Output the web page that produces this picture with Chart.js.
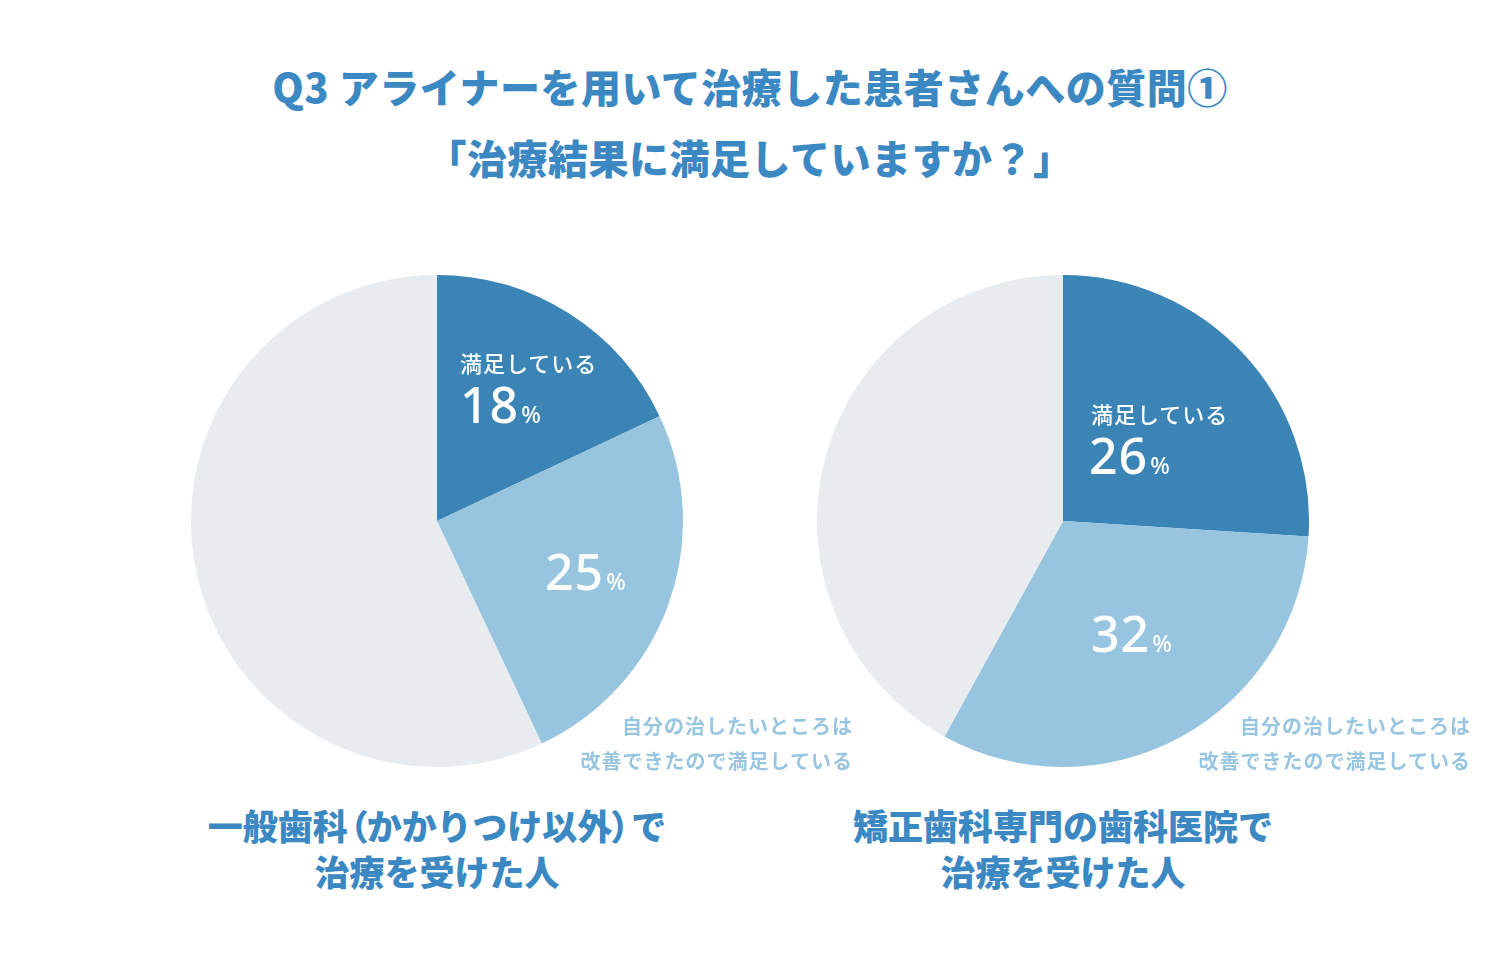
<!DOCTYPE html>
<html lang="ja">
<head>
<meta charset="utf-8">
<script src="https://cdn.jsdelivr.net/npm/chart.js@4/dist/chart.umd.min.js"></script>
<style>
  html,body{margin:0;padding:0;background:#fff;}
  body{width:1500px;height:975px;position:relative;overflow:hidden;font-family:"Noto Sans CJK JP","Noto Sans",sans-serif;}
  .title{position:absolute;left:0;width:1500px;text-align:center;color:#3b88c2;font-weight:900;font-size:40px;line-height:1;letter-spacing:0.5px;}
  .pie{position:absolute;width:492px;height:492px;}
  .lbl{position:absolute;color:#fff;white-space:nowrap;}
  .small{font-size:22px;font-weight:500;letter-spacing:1px;}
  .num{font-family:"Noto Sans","Noto Sans CJK JP",sans-serif;font-size:50px;font-weight:500;letter-spacing:1px;line-height:1;}
  .num span{font-size:23px;margin-left:2px;}
  .note{position:absolute;color:#98c5df;font-size:20px;font-weight:700;text-align:right;line-height:35px;white-space:nowrap;letter-spacing:1px;}
  .cap{position:absolute;width:600px;text-align:center;color:#3b88c2;font-weight:900;font-size:35px;line-height:46px;white-space:nowrap;}
  .pl{display:inline-block;margin:0 -2px 0 -14px;}
  .pr{display:inline-block;margin:0 -14px 0 -2px;}
</style>
</head>
<body>
<div class="title" style="top:66px;">Q3 アライナーを用いて治療した患者さんへの質問①</div>
<div class="title" style="top:137px;">「治療結果に満足していますか？」</div>

<div class="pie" style="left:191px;top:275px;"><canvas id="c1"></canvas></div>
<div class="pie" style="left:817px;top:275px;"><canvas id="c2"></canvas></div>

<div id="labels"></div>

<div class="note" style="right:647px;top:708px;">自分の治したいところは<br>改善できたので満足している</div>
<div class="note" style="right:29px;top:708px;">自分の治したいところは<br>改善できたので満足している</div>

<div class="cap" style="left:137px;top:802px;">一般歯科<span class="pl">（</span>かかりつけ以外<span class="pr">）</span>で<br>治療を受けた人</div>
<div class="cap" style="left:763px;top:802px;">矯正歯科専門の歯科医院で<br>治療を受けた人</div>

<script>
const categories = ['満足している', '自分の治したいところは改善できたので満足している', 'その他'];
const generalValues = [18, 25, 57];
const orthoValues = [26, 32, 42];
const sliceColors = ['#3b84b6', '#97c4de', '#e8ecee'];

function makePie(id, values) {
  return new Chart(document.getElementById(id), {
    type: 'pie',
    data: {
      labels: categories,
      datasets: [{ data: values, backgroundColor: sliceColors, borderWidth: 0 }]
    },
    options: {
      responsive: true,
      maintainAspectRatio: false,
      animation: false,
      layout: { padding: 0 },
      plugins: { legend: { display: false }, tooltip: { enabled: false }, title: { display: false } }
    }
  });
}
makePie('c1', generalValues);
makePie('c2', orthoValues);

const labelsEl = document.getElementById('labels');
function addLabel(html, cls, left, top) {
  const d = document.createElement('div');
  d.className = 'lbl ' + cls;
  d.style.left = left + 'px';
  d.style.top = top + 'px';
  d.innerHTML = html;
  labelsEl.appendChild(d);
}
// left pie
addLabel(categories[0], 'small', 460, 346);
addLabel(generalValues[0] + '<span>%</span>', 'num', 460, 379);
addLabel(generalValues[1] + '<span>%</span>', 'num', 545, 546);
// right pie
addLabel(categories[0], 'small', 1091, 397);
addLabel(orthoValues[0] + '<span>%</span>', 'num', 1089, 430);
addLabel(orthoValues[1] + '<span>%</span>', 'num', 1091, 608);
</script>
</body>
</html>
